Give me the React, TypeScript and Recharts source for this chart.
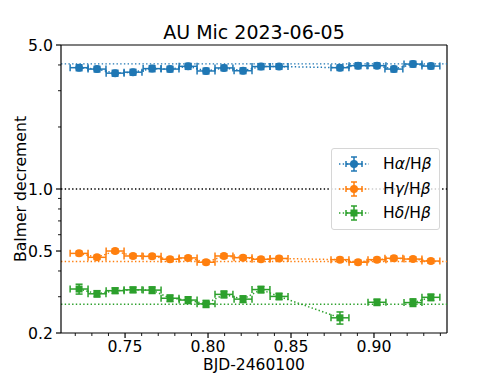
import { ComposedChart, Line, Scatter, XAxis, YAxis, ErrorBar, ReferenceLine } from 'recharts';

// BJD - 2460100 of each exposure (centre) and half exposure width
const BJD = [0.7223, 0.7331, 0.744, 0.7548, 0.7663, 0.7771, 0.788, 0.7988, 0.8096, 0.8211, 0.8319, 0.8428, 0.8795, 0.8904, 0.9018, 0.912, 0.9235, 0.9343];
const BJD_HALF = 0.0054;

const HA = [3.88, 3.82, 3.65, 3.69, 3.84, 3.82, 3.94, 3.74, 3.87, 3.75, 3.93, 3.93, 3.88, 3.97, 3.97, 3.82, 4.04, 3.95];
const HA_ERR = [0.13, 0.12, 0.12, 0.12, 0.13, 0.12, 0.13, 0.12, 0.12, 0.12, 0.13, 0.12, 0.12, 0.13, 0.12, 0.12, 0.13, 0.12];
const HG = [0.487, 0.466, 0.5, 0.473, 0.471, 0.456, 0.463, 0.441, 0.473, 0.464, 0.456, 0.46, 0.454, 0.441, 0.454, 0.461, 0.457, 0.447];
const HG_ERR = [0.012, 0.011, 0.012, 0.011, 0.011, 0.011, 0.011, 0.011, 0.012, 0.011, 0.011, 0.011, 0.011, 0.011, 0.011, 0.011, 0.011, 0.011];
const HD = [0.327, 0.31, 0.321, 0.324, 0.323, 0.295, 0.289, 0.277, 0.308, 0.292, 0.325, 0.301, 0.237, null, 0.282, null, 0.281, 0.298];
const HD_ERR = [0.018, 0.011, 0.01, 0.01, 0.012, 0.011, 0.011, 0.011, 0.012, 0.011, 0.012, 0.011, 0.016, null, 0.01, null, 0.012, 0.011];

// horizontal reference levels
const HA_REF = 4.05;
const HG_REF = 0.445;
const HD_REF = 0.276;

const X_TICKS = [0.72, 0.73, 0.74, 0.75, 0.76, 0.77, 0.78, 0.79, 0.8, 0.81, 0.82, 0.83, 0.84, 0.85, 0.86, 0.87, 0.88, 0.89, 0.9, 0.91, 0.92, 0.93, 0.94];
const X_MAJOR = [0.75, 0.8, 0.85, 0.9];
const Y_TICKS = [0.2, 0.3, 0.4, 0.5, 0.6, 0.7, 0.8, 0.9, 1, 2, 3, 4, 5];
const Y_MAJOR = [0.2, 0.5, 1, 5];

const X_DOMAIN = [0.7114, 0.944];

const BLUE = '#1f77b4';
const ORANGE = '#ff7f0e';
const GREEN = '#2ca02c';
const FONT = '"DejaVu Sans", sans-serif';

const rows = BJD.map((x, i) => ({
  x,
  xErr: BJD_HALF,
  ha: HA[i],
  haErr: HA_ERR[i],
  hg: HG[i],
  hgErr: HG_ERR[i],
  hd: HD[i],
  hdErr: HD_ERR[i],
}));
const hdRows = rows.filter((r) => r.hd != null);

const SERIES = [
  { key: 'ha', color: BLUE, greek: 'α', square: false },
  { key: 'hg', color: ORANGE, greek: 'γ', square: false },
  { key: 'hd', color: GREEN, greek: 'δ', square: true },
];

const circle = (color: string) => (p: any) => <circle cx={p.cx} cy={p.cy} r={4} fill={color} />;
const box = (color: string) => (p: any) => <rect x={p.cx - 3.5} y={p.cy - 3.5} width={7} height={7} fill={color} />;

const XTick = ({ x, y, payload }: any) => {
  const major = X_MAJOR.includes(payload.value);
  return (
    <g>
      <line x1={x} x2={x} y1={y} y2={y + (major ? 5 : 3)} stroke="#000" strokeWidth={major ? 1.2 : 0.9} />
      {major && (
        <text x={x} y={y + 19} textAnchor="middle" fontSize={15.7} fontFamily={FONT} fill="#000">
          {payload.value.toFixed(2)}
        </text>
      )}
    </g>
  );
};

const YTick = ({ x, y, payload }: any) => {
  const major = Y_MAJOR.includes(payload.value);
  return (
    <g>
      <line x1={x} x2={x - (major ? 5 : 3)} y1={y} y2={y} stroke="#000" strokeWidth={major ? 1.2 : 0.9} />
      {major && (
        <text x={x - 8} y={y + 5.5} textAnchor="end" fontSize={15.7} fontFamily={FONT} fill="#000">
          {payload.value.toFixed(1)}
        </text>
      )}
    </g>
  );
};

const dotted = '1.4 2.3';

function LegendBox() {
  return (
    <div
      style={{
        position: 'absolute',
        left: 331,
        top: 148,
        width: 107,
        height: 80,
        border: '1px solid #d6d6d6',
        borderRadius: 3,
        background: 'rgba(255,255,255,0.8)',
        fontFamily: FONT,
        fontSize: 15.5,
      }}
    >
      {SERIES.map((s, i) => (
        <div key={s.key} style={{ position: 'absolute', left: 6, top: 3 + i * 24.5, height: 24, display: 'flex', alignItems: 'center' }}>
          <svg width={32} height={20}>
            <line x1={1} x2={31} y1={10} y2={10} stroke={s.color} strokeWidth={1.5} strokeDasharray={dotted} />
            <line x1={8} x2={24} y1={10} y2={10} stroke={s.color} strokeWidth={1.5} />
            <line x1={8} x2={8} y1={7} y2={13} stroke={s.color} strokeWidth={1.5} />
            <line x1={24} x2={24} y1={7} y2={13} stroke={s.color} strokeWidth={1.5} />
            <line x1={16} x2={16} y1={3} y2={17} stroke={s.color} strokeWidth={1.5} />
            <line x1={13} x2={19} y1={3} y2={3} stroke={s.color} strokeWidth={1.5} />
            <line x1={13} x2={19} y1={17} y2={17} stroke={s.color} strokeWidth={1.5} />
            {s.square ? <rect x={12.5} y={6.5} width={7} height={7} fill={s.color} /> : <circle cx={16} cy={10} r={4} fill={s.color} />}
          </svg>
          <span style={{ marginLeft: 13, whiteSpace: 'nowrap' }}>
            H<i>{s.greek}</i>/H<i>β</i>
          </span>
        </div>
      ))}
    </div>
  );
}

export default function App() {
  return (
    <div style={{ position: 'absolute', left: 0, top: 0, width: 498, height: 374, background: '#fff', fontFamily: FONT }}>
      <ComposedChart width={498} height={374} data={rows} margin={{ top: 45, right: 51, bottom: 0, left: 0 }}>
        <XAxis
          dataKey="x"
          type="number"
          domain={X_DOMAIN}
          ticks={X_TICKS}
          interval={0}
          allowDataOverflow
          height={41}
          tickSize={0}
          tickMargin={0}
          tickLine={false}
          tick={<XTick />}
          axisLine={{ stroke: '#000', strokeWidth: 1.2 }}
        />
        <YAxis
          type="number"
          scale="log"
          domain={[0.2, 5]}
          ticks={Y_TICKS}
          interval={0}
          allowDataOverflow
          width={61}
          tickSize={0}
          tickMargin={0}
          tickLine={false}
          tick={<YTick />}
          axisLine={{ stroke: '#000', strokeWidth: 1.2 }}
        />
        <ReferenceLine y={5} stroke="#000" strokeWidth={1.2} />
        <ReferenceLine x={X_DOMAIN[1]} stroke="#000" strokeWidth={1.2} />

        <ReferenceLine y={1} stroke="#000" strokeWidth={1.4} strokeDasharray={dotted} />
        <ReferenceLine y={HA_REF} stroke={BLUE} strokeWidth={1.4} strokeDasharray={dotted} />
        <ReferenceLine y={HG_REF} stroke={ORANGE} strokeWidth={1.4} strokeDasharray={dotted} />
        <ReferenceLine y={HD_REF} stroke={GREEN} strokeWidth={1.4} strokeDasharray={dotted} />

        <Line dataKey="ha" stroke={BLUE} strokeWidth={1.5} strokeDasharray={dotted} dot={false} activeDot={false} isAnimationActive={false} />
        <Line dataKey="hg" stroke={ORANGE} strokeWidth={1.5} strokeDasharray={dotted} dot={false} activeDot={false} isAnimationActive={false} />
        <Line dataKey="hd" stroke={GREEN} strokeWidth={1.5} strokeDasharray={dotted} dot={false} activeDot={false} connectNulls={false} isAnimationActive={false} />

        <Scatter data={rows} dataKey="ha" fill={BLUE} shape={circle(BLUE)} isAnimationActive={false}>
          <ErrorBar dataKey="xErr" direction="x" width={3.5} stroke={BLUE} strokeWidth={1.5} />
          <ErrorBar dataKey="haErr" direction="y" width={3.5} stroke={BLUE} strokeWidth={1.5} />
        </Scatter>
        <Scatter data={rows} dataKey="hg" fill={ORANGE} shape={circle(ORANGE)} isAnimationActive={false}>
          <ErrorBar dataKey="xErr" direction="x" width={3.5} stroke={ORANGE} strokeWidth={1.5} />
          <ErrorBar dataKey="hgErr" direction="y" width={3.5} stroke={ORANGE} strokeWidth={1.5} />
        </Scatter>
        <Scatter data={hdRows} dataKey="hd" fill={GREEN} shape={box(GREEN)} isAnimationActive={false}>
          <ErrorBar dataKey="xErr" direction="x" width={3.5} stroke={GREEN} strokeWidth={1.5} />
          <ErrorBar dataKey="hdErr" direction="y" width={3.5} stroke={GREEN} strokeWidth={1.5} />
        </Scatter>
      </ComposedChart>

      <div style={{ position: 'absolute', left: 61, width: 386, top: 20, textAlign: 'center', fontSize: 19, lineHeight: '24px', color: '#000' }}>
        AU Mic 2023-06-05
      </div>
      <div style={{ position: 'absolute', left: 61, width: 386, top: 356, textAlign: 'center', fontSize: 15.5, lineHeight: '18px', color: '#000' }}>
        BJD-2460100
      </div>
      <div
        style={{
          position: 'absolute',
          left: 21,
          top: 189,
          transform: 'translate(-50%, -50%) rotate(-90deg)',
          fontSize: 15.7,
          lineHeight: '20px',
          whiteSpace: 'nowrap',
          color: '#000',
        }}
      >
        Balmer decrement
      </div>
      <LegendBox />
    </div>
  );
}
